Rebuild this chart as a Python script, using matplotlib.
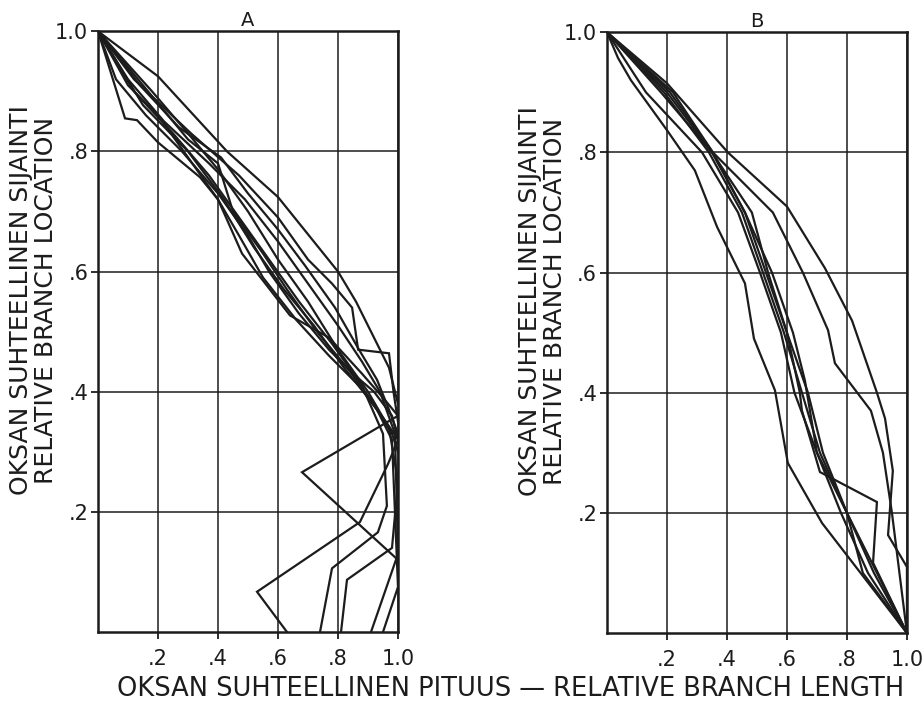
import matplotlib
matplotlib.use("Agg")
import matplotlib.pyplot as plt

# relative branch length (x) vs relative branch location (y), one polyline per tree

# panel A
a_x = [
    [0, 0.20, 0.43, 0.60, 0.80, 0.86, 0.93, 0.97, 1.0],
    [0, 0.12, 0.31, 0.47, 0.60, 0.70, 0.78, 0.847, 0.867, 0.97, 0.985, 1.0],
    [0, 0.09, 0.13, 0.20, 0.34, 0.40, 0.48, 0.64, 0.77, 0.88, 0.95, 1.0, 0.68, 1.0],
    [0, 0.15, 0.30, 0.42, 0.52, 0.62, 0.72, 0.82, 0.90, 0.96, 1.0, 0.967, 0.873, 0.53, 0.63],
    [0, 0.12, 0.25, 0.37, 0.47, 0.57, 0.67, 0.78, 0.88, 0.95, 0.963, 0.933, 0.78, 0.74],
    [0, 0.18, 0.30, 0.40, 0.50, 0.60, 0.70, 0.80, 0.90, 0.97, 1.0, 0.98, 0.83, 0.81],
    [0, 0.10, 0.22, 0.37, 0.49, 0.60, 0.70, 0.80, 0.88, 0.94, 0.99, 1.0, 0.91],
    [0, 0.20, 0.30, 0.40, 0.45, 0.55, 0.63, 0.73, 0.83, 0.92, 0.98, 1.0, 0.95],
    [0, 0.10, 0.20, 0.30, 0.40, 0.47, 0.55, 0.66, 0.77, 0.87, 0.93, 0.98, 1.0],
    [0, 0.14, 0.27, 0.41, 0.50, 0.60, 0.69, 0.79, 0.87, 0.93, 0.97, 1.0],
    [0, 0.06, 0.16, 0.28, 0.40, 0.50, 0.57, 0.67, 0.77, 0.85, 0.92, 0.98, 1.0],
]
a_y = [
    [1, 0.925, 0.80, 0.724, 0.60, 0.55, 0.48, 0.44, 0.38],
    [1, 0.92, 0.83, 0.76, 0.69, 0.62, 0.58, 0.54, 0.47, 0.464, 0.40, 0.35],
    [1, 0.855, 0.852, 0.815, 0.757, 0.72, 0.63, 0.527, 0.49, 0.43, 0.39, 0.36, 0.266, 0.12],
    [1, 0.877, 0.80, 0.72, 0.64, 0.57, 0.51, 0.44, 0.39, 0.35, 0.32, 0.28, 0.183, 0.067, 0],
    [1, 0.90, 0.83, 0.76, 0.69, 0.62, 0.55, 0.48, 0.41, 0.33, 0.21, 0.166, 0.106, 0],
    [1, 0.90, 0.83, 0.77, 0.70, 0.62, 0.55, 0.47, 0.40, 0.34, 0.25, 0.14, 0.087, 0],
    [1, 0.92, 0.85, 0.78, 0.72, 0.65, 0.58, 0.51, 0.45, 0.40, 0.33, 0.13, 0],
    [1, 0.88, 0.82, 0.78, 0.70, 0.63, 0.57, 0.50, 0.44, 0.38, 0.32, 0.075, 0],
    [1, 0.91, 0.86, 0.79, 0.72, 0.66, 0.59, 0.52, 0.46, 0.41, 0.37, 0.33, 0.30],
    [1, 0.91, 0.84, 0.79, 0.73, 0.67, 0.61, 0.54, 0.47, 0.42, 0.37, 0.33],
    [1, 0.92, 0.86, 0.80, 0.73, 0.66, 0.60, 0.53, 0.47, 0.43, 0.40, 0.36, 0.32],
]

# panel B
b_x = [
    [0, 0.20, 0.403, 0.60, 0.727, 0.817, 0.90, 0.927, 0.953, 0.937, 1.0, 1.0],
    [0, 0.21, 0.353, 0.553, 0.653, 0.737, 0.76, 0.88, 0.92, 0.95, 0.975, 1.0],
    [0, 0.18, 0.35, 0.46, 0.53, 0.60, 0.643, 0.65, 0.71, 0.90, 0.887, 1.0],
    [0, 0.20, 0.35, 0.483, 0.537, 0.60, 0.67, 0.72, 0.80, 0.89, 1.0],
    [0, 0.22, 0.353, 0.46, 0.55, 0.62, 0.66, 0.70, 0.80, 0.90, 1.0],
    [0, 0.037, 0.08, 0.20, 0.293, 0.367, 0.46, 0.49, 0.56, 0.603, 0.717, 1.0],
    [0, 0.13, 0.317, 0.437, 0.51, 0.58, 0.625, 0.70, 0.78, 0.87, 1.0],
    [0, 0.19, 0.34, 0.45, 0.52, 0.59, 0.65, 0.71, 0.80, 0.853, 1.0],
]
b_y = [
    [1, 0.915, 0.80, 0.71, 0.607, 0.52, 0.40, 0.357, 0.27, 0.163, 0.11, 0],
    [1, 0.90, 0.80, 0.70, 0.60, 0.504, 0.449, 0.37, 0.30, 0.20, 0.10, 0],
    [1, 0.90, 0.80, 0.70, 0.60, 0.50, 0.40, 0.37, 0.268, 0.218, 0.117, 0],
    [1, 0.9, 0.8, 0.7, 0.6, 0.5, 0.4, 0.3, 0.2, 0.1, 0],
    [1, 0.9, 0.8, 0.7, 0.6, 0.5, 0.42, 0.30, 0.2, 0.1, 0],
    [1, 0.957, 0.92, 0.837, 0.77, 0.676, 0.582, 0.49, 0.404, 0.283, 0.183, 0],
    [1, 0.9, 0.8, 0.7, 0.6, 0.5, 0.40, 0.3, 0.2, 0.1, 0],
    [1, 0.9, 0.8, 0.7, 0.6, 0.5, 0.4, 0.3, 0.2, 0.1, 0],
]

ticks = [0.2, 0.4, 0.6, 0.8, 1.0]
tick_labels = [".2", ".4", ".6", ".8", "1.0"]
ylabel = "OKSAN SUHTEELLINEN SIJAINTI\nRELATIVE BRANCH LOCATION"
xlabel = "OKSAN SUHTEELLINEN PITUUS \u2014 RELATIVE BRANCH LENGTH"
ink = "#1c1c1c"

plt.rcParams["font.family"] = "DejaVu Sans"

fig = plt.figure(figsize=(9.23, 7.01), dpi=100)
ax_a = fig.add_axes([0.1062, 0.0984, 0.325, 0.857])
ax_b = fig.add_axes([0.6576, 0.0970, 0.325, 0.857])


def panel(ax, xs, ys, title):
    for x, y in zip(xs, ys):
        ax.plot(x, y, color=ink, lw=1.6, solid_joinstyle="miter")
    ax.set_xlim(0, 1)
    ax.set_ylim(0, 1)
    ax.set_xticks(ticks)
    ax.set_xticklabels(tick_labels)
    ax.set_yticks(ticks)
    ax.set_yticklabels(tick_labels)
    ax.grid(True, color=ink, lw=1.1)
    ax.set_axisbelow(True)
    for s in ax.spines.values():
        s.set_linewidth(1.8)
        s.set_color(ink)
    ax.tick_params(axis="both", colors=ink, labelsize=15, width=1.3, length=5)
    ax.tick_params(axis="y", pad=2)
    ax.tick_params(axis="x", pad=7)
    ax.set_title(title, fontsize=14, pad=4, color=ink)
    ax.text(-0.215, 0.552, ylabel, transform=ax.transAxes, rotation=90,
            ha="center", va="center", multialignment="center",
            fontsize=18, linespacing=1.08, color=ink)


panel(ax_a, a_x, a_y, "A")
panel(ax_b, b_x, b_y, "B")

fig.text(511 / 923, 1 - 689 / 701, xlabel, ha="center", va="center",
         fontsize=18.5, color=ink)

fig.savefig("out.png", dpi=100, facecolor="white")
